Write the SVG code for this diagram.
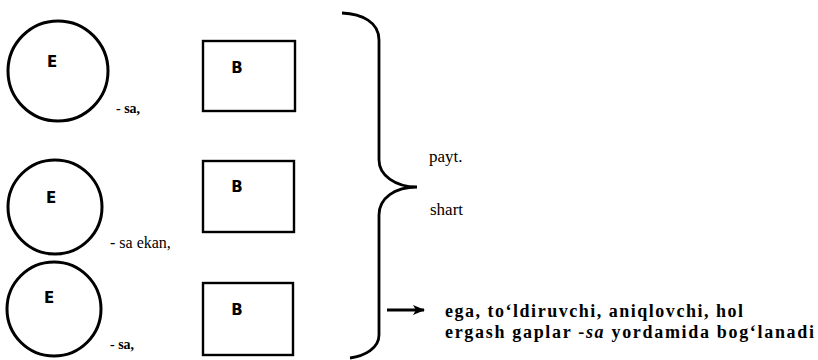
<svg xmlns="http://www.w3.org/2000/svg" width="818" height="360" viewBox="0 0 818 360">
<style>
.c{fill:none;stroke:#000;stroke-width:3}
.r{fill:none;stroke:#000;stroke-width:2.4}
.l{font-family:"DejaVu Sans",sans-serif;font-weight:bold;font-size:15px;fill:#000}
.s{font-family:"Liberation Serif","DejaVu Serif",serif;fill:#000}
.b{font-family:"Liberation Serif","DejaVu Serif",serif;font-weight:bold;fill:#000}
</style>
<defs>
<marker id="ah" markerWidth="12" markerHeight="12" refX="11" refY="6" orient="auto" markerUnits="userSpaceOnUse">
<path d="M0,1 L12,6 L0,11 L3,6 z" fill="#000"/>
</marker>
</defs>
<rect width="818" height="360" fill="#fff"/>
<g id="e1"><circle class="c" cx="58" cy="71" r="50"/><text class="l" x="52" y="67" text-anchor="middle">E</text></g>
<g id="b1"><rect class="r" x="203" y="41" width="92" height="70"/><text class="l" x="237" y="73" text-anchor="middle">B</text></g>
<g id="e2"><circle class="c" cx="55" cy="207" r="47"/><text class="l" x="51" y="203" text-anchor="middle">E</text></g>
<g id="b2"><rect class="r" x="203" y="161" width="91" height="71"/><text class="l" x="237" y="192" text-anchor="middle">B</text></g>
<g id="e3"><circle class="c" cx="54" cy="309" r="47"/><text class="l" x="49" y="303" text-anchor="middle">E</text></g>
<g id="b3"><rect class="r" x="203" y="283" width="90" height="72"/><text class="l" x="237" y="315" text-anchor="middle">B</text></g>
<text class="b" x="116" y="113" font-size="14">- sa,</text>
<text class="s" x="110" y="248" font-size="16">- sa ekan,</text>
<text class="b" x="110" y="349" font-size="14">- sa,</text>
<g id="connectors">
<path d="M342,13 C362,14 379,22 379,40 L379,160 C379,175 395,187 417,187 C395,187 379,198 379,215 L379,335 C379,348 365,356 350,358" fill="none" stroke="#000" stroke-width="2.8"/>
<line x1="387" y1="310" x2="424" y2="310" stroke="#000" stroke-width="2.8" marker-end="url(#ah)"/>
</g>
<text class="s" x="429" y="162" font-size="17">payt.</text>
<text class="s" x="430" y="215" font-size="17">shart</text>
<text class="b" x="445" y="317" font-size="18" textLength="298" lengthAdjust="spacing">ega,  to‘ldiruvchi,  aniqlovchi, hol</text>
<text class="b" x="445" y="338" font-size="18" textLength="369" lengthAdjust="spacing">ergash  gaplar  -<tspan font-style="italic">sa</tspan>  yordamida  bog‘lanadi</text>
</svg>
